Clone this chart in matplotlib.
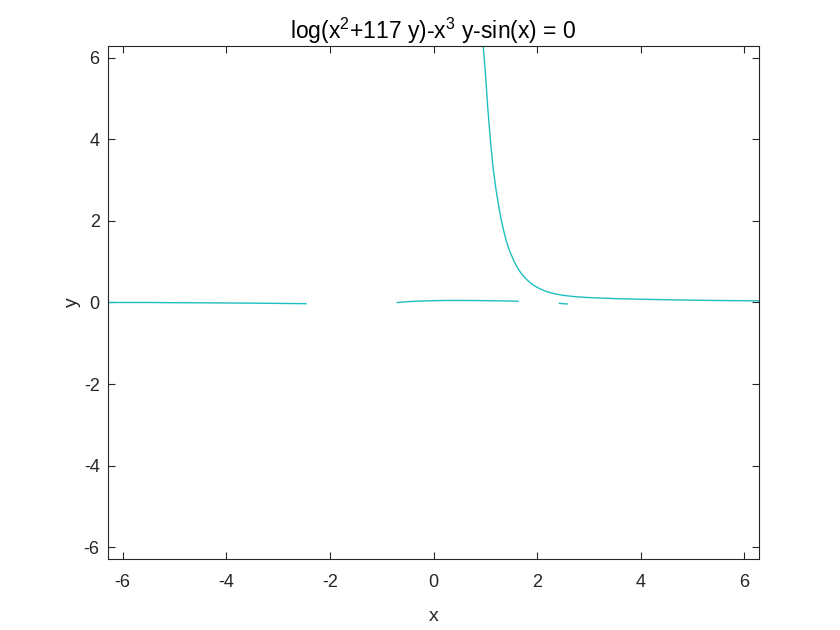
import numpy as np
import matplotlib.pyplot as plt

plt.rcParams['font.family'] = ['Liberation Sans', 'DejaVu Sans']
plt.rcParams['axes.unicode_minus'] = False
plt.rcParams['mathtext.fontset'] = 'custom'
plt.rcParams['mathtext.rm'] = 'Liberation Sans'
plt.rcParams['mathtext.it'] = 'Liberation Sans'

# curve pieces
left_x = [-6.28, -5.5, -5.0, -4.5, -4.0, -3.5, -3.0, -2.7, -2.46]
left_y = [0.0, 0.0, -0.005, -0.008, -0.012, -0.016, -0.022, -0.026, -0.03]

mid_x = [-0.70, -0.5, -0.25, 0.0, 0.25, 0.5, 0.75, 1.0, 1.25, 1.5, 1.63]
mid_y = [0.0, 0.02, 0.035, 0.045, 0.05, 0.05, 0.048, 0.045, 0.04, 0.035, 0.03]

dash_x = [2.43, 2.5, 2.58]
dash_y = [-0.02, -0.03, -0.035]

main_x = [0.957, 1.0, 1.05, 1.1, 1.15, 1.2, 1.25, 1.3, 1.35, 1.4, 1.45, 1.5,
          1.55, 1.6, 1.65, 1.7, 1.8, 1.9, 2.0, 2.1, 2.2, 2.35, 2.5, 2.75,
          3.0, 3.5, 4.0, 4.6, 5.4, 6.28]
main_y = [6.32, 5.65, 4.72, 3.94, 3.3, 2.82, 2.42, 2.07, 1.78, 1.53, 1.33, 1.17,
          1.02, 0.9, 0.79, 0.70, 0.56, 0.45, 0.37, 0.31, 0.26, 0.21, 0.175, 0.14,
          0.12, 0.095, 0.08, 0.065, 0.05, 0.04]

line_color = '#1fbfbf'
text_color = '#262626'

fig = plt.figure(figsize=(8.4, 6.3), dpi=100)
ax = fig.add_axes([0.1286, 0.1127, 0.775, 0.8143])

for xs, ys in [(left_x, left_y), (mid_x, mid_y), (dash_x, dash_y), (main_x, main_y)]:
    ax.plot(xs, ys, color=line_color, lw=1.0)

ax.set_xlim(-2 * np.pi, 2 * np.pi)
ax.set_ylim(-2 * np.pi, 2 * np.pi)
ax.set_xticks(np.arange(-6, 7, 2))
ax.set_yticks(np.arange(-6, 7, 2))
ax.tick_params(direction='in', top=True, right=True, length=5, width=0.8,
               labelsize=13, color=text_color, labelcolor=text_color, pad=6)
ax.tick_params(axis='x', pad=11)
for s in ax.spines.values():
    s.set_linewidth(0.8)
    s.set_color(text_color)

ax.set_xlabel('x', fontsize=14, color=text_color, labelpad=12)
ax.set_ylabel('y', fontsize=14, color=text_color, labelpad=2)
ax.set_title(r'log(x$^2$+117 y)-x$^3$ y-sin(x) = 0', fontsize=16.5, color='#000000', pad=5)

fig.savefig('out.png')
